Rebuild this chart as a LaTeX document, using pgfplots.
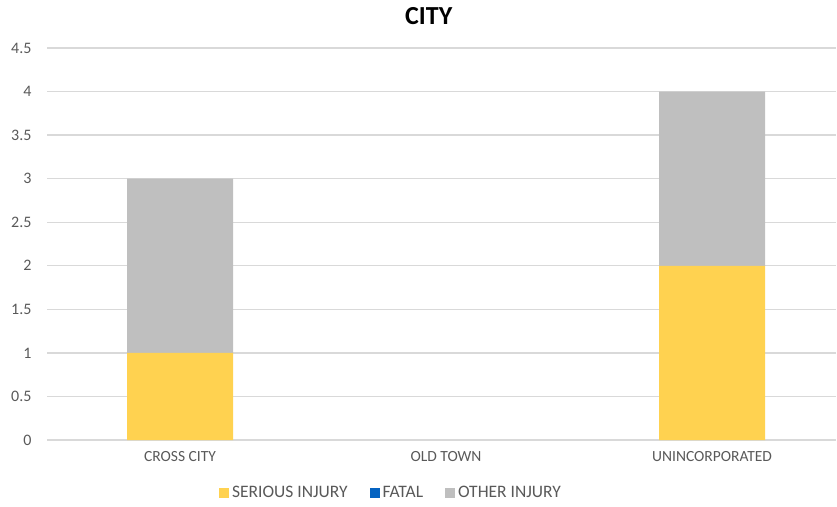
\documentclass[border=0pt]{standalone}
\usepackage{pgfplots}
\pgfplotsset{compat=1.18}
\usepackage{fontspec}
\setmainfont{Carlito}
\definecolor{serious}{HTML}{FFD250}
\definecolor{fatal}{HTML}{0563C1}
\definecolor{other}{HTML}{BFBFBF}
\definecolor{gridc}{HTML}{D9D9D9}
\definecolor{txt}{HTML}{595959}
\begin{document}
\begin{tikzpicture}
\useasboundingbox (0,0) rectangle (837pt,506pt);
\begin{axis}[
  at={(47pt,66pt)}, anchor=south west,
  scale only axis, width=789pt, height=392pt,
  ybar stacked, bar width=106pt,
  xmin=-0.5, xmax=2.466, ymin=0, ymax=4.5,
  xtick=data, xticklabels={CROSS CITY, OLD TOWN, UNINCORPORATED},
  ytick={0,0.5,...,4.5},
  axis line style={draw=none},
  axis x line*=bottom,
  x axis line style={draw=gridc, line width=1.3pt},
  major tick length=0pt,
  ymajorgrids, grid style={gridc, line width=1.3pt},
  tick label style={font=\fontsize{16}{18}\selectfont, text=txt},
  /pgf/number format/assume math mode=true,
  yticklabel style={anchor=east, xshift=-12pt},
  xticklabel style={yshift=-8pt, font=\fontsize{15.5}{18}\selectfont},
  title={\textbf{CITY}},
  title style={at={(axis description cs:0.484,1)}, anchor=center, yshift=26pt, font=\fontsize{26}{30}\selectfont},
  legend style={at={(axis description cs:0.436,-0.135)}, anchor=center, draw=none, legend columns=3,
    font=\fontsize{17.5}{19}\selectfont, text=txt,
    /tikz/every odd column/.append style={column sep=1pt},
    /tikz/every even column/.append style={column sep=20pt}},
  legend image code/.code={\fill[#1, draw=none] (0pt,-5pt) rectangle (10pt,5pt);},
]
\addplot[fill=serious, draw=none] coordinates {(0,1) (1,0) (2,2)};
\addplot[fill=fatal, draw=none] coordinates {(0,0) (1,0) (2,0)};
\addplot[fill=other, draw=none] coordinates {(0,2) (1,0) (2,2)};
\legend{SERIOUS INJURY, FATAL, OTHER INJURY}
\end{axis}
\end{tikzpicture}
\end{document}
